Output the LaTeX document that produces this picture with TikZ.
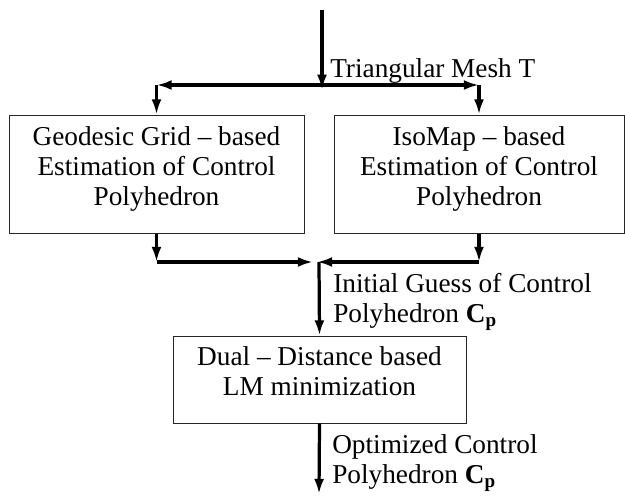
\documentclass[tikz,border=0pt]{standalone}
\usepackage{fontspec}
\setmainfont{Liberation Serif}
\usetikzlibrary{arrows.meta,positioning}

\begin{document}
\begin{tikzpicture}[
  txt/.style={font=\fontsize{19.4pt}{21.3pt}\selectfont},
  box/.style={txt, draw=black!85, line width=0.7pt, align=center, inner sep=0pt},
  flow/.style={line width=2.3pt, -{Latex[length=3.8mm,width=2.5mm]}},
  lab/.style={txt, anchor=base west, align=left, inner sep=0pt}]
  \useasboundingbox (0,0) rectangle (15.625,-12.375);
  % estimation boxes
  \node[box, minimum width=7.375cm, text height=2.25cm, text depth=0.7cm] (geo) at (3.9125,-4.35)
    {Geodesic Grid -- based\\Estimation of Control\\Polyhedron};
  \node[box, minimum width=7.25cm, text height=2.25cm, text depth=0.7cm] (iso) at (11.975,-4.35)
    {IsoMap -- based\\Estimation of Control\\Polyhedron};
  \node[box, minimum width=7.325cm, text height=1.475cm, text depth=0.7cm] (dual) at (7.9875,-9.4875)
    {Dual -- Distance based\\LM minimization};
  % input mesh and split
  \coordinate (src) at (8.05,-0.25);
  \coordinate (fork) at (8.05,-2.125);
  \coordinate (gl) at (geo.north |- fork);
  \coordinate (ir) at (iso.north |- fork);
  \draw[flow, shorten >=-0.12cm] (src) -- (fork);
  \node[lab] (mesh) at (8.25,-1.925) {Triangular Mesh T};
  \draw[flow] (fork) -- (gl);
  \draw[flow] (fork) -- (ir);
  \draw[flow] (gl) -- (geo.north);
  \draw[flow] (ir) -- (iso.north);
  % merge of the two estimates
  \coordinate (merge) at (7.975,-6.55);
  \coordinate (gb) at (geo.south |- merge);
  \coordinate (ib) at (iso.south |- merge);
  \draw[flow] (geo.south) -- (gb);
  \draw[flow] (iso.south) -- (ib);
  \draw[flow, shorten >=0.15cm] (gb) -- (merge);
  \draw[flow, shorten >=-0.05cm] (ib) -- (merge);
  \draw[flow] (merge) -- (dual.north);
  \node[lab] (guess) at (8.325,-8.05) {Initial Guess of Control\\Polyhedron \textbf{C\textsubscript{p}}};
  % output
  \coordinate (out) at (7.975,-12.35);
  \draw[flow] (dual.south) -- (out);
  \node[lab] (opt) at (8.3,-12.075) {Optimized Control\\Polyhedron \textbf{C\textsubscript{p}}};
\end{tikzpicture}
\end{document}
